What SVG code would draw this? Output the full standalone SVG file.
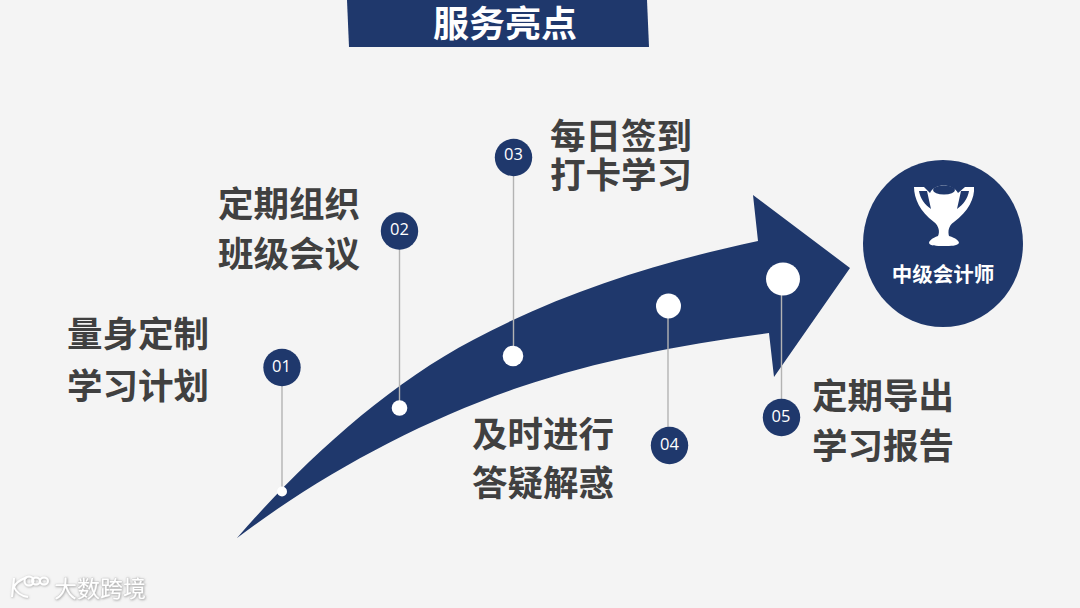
<svg xmlns="http://www.w3.org/2000/svg" width="1080" height="608" viewBox="0 0 1080 608">
<defs>
<style>
.h{font-family:"Noto Sans CJK SC","Noto Sans",sans-serif;font-weight:700;font-size:35.5px;fill:#404040}
.w{font-family:"Noto Sans CJK SC","Noto Sans",sans-serif;font-weight:700;fill:#fff;text-anchor:middle}
.n{font-family:"Open Sans","Noto Sans",sans-serif;font-size:16.5px;fill:#fff;text-anchor:middle}
.b{fill:#1f386c}
.d{fill:#fff}
.l{stroke:#b3b3b3;stroke-width:1.4;fill:none}
.wm{font-family:"Noto Sans CJK SC",sans-serif;font-size:23px;font-weight:400;fill:#fff;stroke:#c4c4c4;stroke-width:.5;paint-order:stroke}
.wl{fill:none;stroke:#fff;stroke-width:2}
</style>
<filter id="s" x="-10%" y="-10%" width="120%" height="120%"><feDropShadow dx="0.6" dy="0.6" stdDeviation="0.8" flood-color="#777" flood-opacity="0.7"/></filter>
</defs>
<rect width="1080" height="608" fill="#f4f4f4"/>
<g id="title">
<path class="b" d="M347 0H647L649 47H349Z"/>
<text class="w" x="505" y="37" font-size="36">服务亮点</text>
</g>
<g id="arrow">
<path class="b" d="M237 538C300 465 385 386 473 340C565 291 660 262 758 241L753 195L850 268L774 377L769 333C680 345 600 360 520 387C420 421 320 475 237 538Z"/>
</g>
<g id="connectors">
<line class="l" x1="282" y1="370" x2="282" y2="491"/>
<line class="l" x1="399.500" y1="232" x2="399.500" y2="408"/>
<line class="l" x1="513.500" y1="158" x2="513.500" y2="356"/>
<line class="l" x1="668" y1="306" x2="668" y2="445"/>
<line class="l" x1="781.500" y1="281" x2="781.500" y2="417"/>
</g>
<g id="node-01">
<circle class="b" cx="282" cy="367.500" r="18.700"/><text class="n" x="281.500" y="371.500">01</text>
<circle class="d" cx="282" cy="491.500" r="5"/>
<text class="h" x="67" y="347">量身定制</text><text class="h" x="67" y="399">学习计划</text>
</g>
<g id="node-02">
<circle class="b" cx="399.500" cy="231" r="18.700"/><text class="n" x="399.500" y="235">02</text>
<circle class="d" cx="399.500" cy="408" r="7.800"/>
<text class="h" x="218" y="217">定期组织</text><text class="h" x="218" y="267">班级会议</text>
</g>
<g id="node-03">
<circle class="b" cx="513.500" cy="157.500" r="18.700"/><text class="n" x="513.500" y="160">03</text>
<circle class="d" cx="513" cy="356" r="10.300"/>
<text class="h" x="550" y="149">每日签到</text><text class="h" x="550" y="188">打卡学习</text>
</g>
<g id="node-04">
<circle class="b" cx="669.500" cy="445.500" r="18.700"/><text class="n" x="669.500" y="449.500">04</text>
<circle class="d" cx="668.500" cy="306" r="12.500"/>
<text class="h" x="472" y="447">及时进行</text><text class="h" x="472" y="496">答疑解惑</text>
</g>
<g id="node-05">
<circle class="b" cx="781.500" cy="417.500" r="18.700"/><text class="n" x="781" y="422">05</text>
<ellipse class="d" cx="783" cy="279" rx="17" ry="16.500"/>
<text class="h" x="812" y="409">定期导出</text><text class="h" x="812" y="459">学习报告</text>
</g>
<g id="goal">
<ellipse class="b" cx="943" cy="243.500" rx="80" ry="83.500"/>
<g id="trophy">
<path class="d" d="M930 193C934 183 953 183 958 193L965 187H974C975 198 968 212 954 222C948 226 948 232 949 236C956 238 959 241 959 243C957 246 951 246 944 246C936 246 930 246 929 243C929 241 932 238 938 236C940 232 939 226 934 222C920 212 914 198 914 187H924Z"/>
<ellipse class="b" cx="944" cy="190" rx="11" ry="4.500"/>
<path class="b" d="M919 191H927L931 209C925 205 920 198 919 191ZM969 191H961L957 209C963 205 968 198 969 191Z"/>
</g>
<text class="w" x="943" y="282" font-size="20.500">中级会计师</text>
</g>
<g id="watermark" filter="url(#s)">
<path class="wl" stroke-width="2.500" d="M14 578L12 597M27 577C20 580 15 584 14 587C16 592 21 596 28 597"/>
<circle class="wl" cx="29" cy="581" r="4.500"/>
<ellipse class="wl" cx="36" cy="581" rx="4" ry="3.500"/>
<ellipse class="wl" cx="44" cy="581" rx="4" ry="3.500"/>
<text class="wm" x="54" y="597">大数跨境</text>
</g>
</svg>
